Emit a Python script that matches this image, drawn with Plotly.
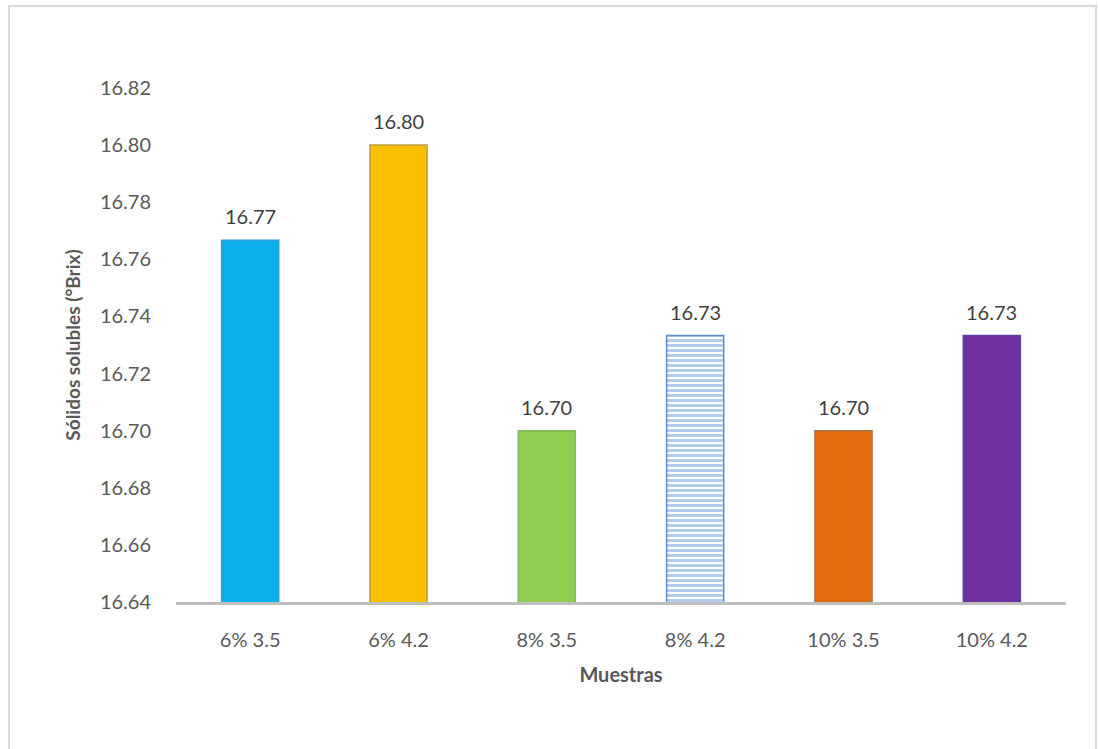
import plotly.graph_objects as go

categories = ["6% 3.5", "6% 4.2", "8% 3.5", "8% 4.2", "10% 3.5", "10% 4.2"]
values = [16.7667, 16.80, 16.70, 16.7333, 16.70, 16.7333]
labels = ["16.77", "16.80", "16.70", "16.73", "16.70", "16.73"]
colors = ["#0AAEEA", "#FBC002", "#8FCF50", "#B3CCEE", "#E36C0C", "#7030A0"]
edge_colors = ["#2E9FD8", "#B5A040", "#7DBA62", "#5F8CCF", "#B07040", "#6040A0"]
tick_vals = [16.64, 16.66, 16.68, 16.70, 16.72, 16.74, 16.76, 16.78, 16.80, 16.82]

fig = go.Figure()
fig.add_trace(go.Bar(
    x=categories, y=values,
    marker=dict(
        color=colors,
        line=dict(color=edge_colors, width=1.5),
        pattern=dict(
            shape=["", "", "", "-", "", ""],
            fgcolor="#4576C4",
            bgcolor="#BCD2F0",
            size=5,
            solidity=0.6,
            fillmode="replace",
        ),
    ),
    width=0.385,
    hoverinfo="skip",
))

for c, v, t in zip(categories, values, labels):
    fig.add_annotation(x=c, y=v, text=t, showarrow=False, yshift=24,
                       font=dict(family="Lato", size=20, color="#404040"))

L, R, T, B = 176, 32, 88, 147
W, H = 1098, 749
pw, ph = W - L - R, H - T - B
x0 = (9 - L) / pw
x1 = (1096 - L) / pw
y1 = (ph + T - 6) / ph
y0 = (ph + T - 760) / ph
fig.add_shape(type="rect", xref="paper", yref="paper", x0=x0, x1=x1, y0=y0, y1=y1,
              line=dict(color="#D9D9D9", width=2), fillcolor="rgba(0,0,0,0)", layer="below")

fig.update_layout(
    width=W, height=H,
    margin=dict(l=L, r=R, t=T, b=B),
    paper_bgcolor="white", plot_bgcolor="white",
    showlegend=False,
    font=dict(family="Lato", color="#595959", size=20),
    xaxis=dict(
        showline=True, linecolor="#BFBFBF", linewidth=3,
        showgrid=False, ticks="", ticklabelstandoff=18,
        tickfont=dict(family="Lato", size=20, color="#595959"),
        title=dict(text="<b>Muestras</b>", font=dict(family="Lato", size=20, color="#595959"), standoff=18),
    ),
    yaxis=dict(
        range=[16.64, 16.82], tickvals=tick_vals,
        tickformat=".2f", showgrid=False, showline=False, zeroline=False,
        ticks="", ticklabelstandoff=24,
        tickfont=dict(family="Lato", size=20, color="#595959"),
        title=dict(text="<b>Sólidos solubles (°Brix)</b>", font=dict(family="Lato", size=19, color="#595959"), standoff=14),
    ),
)

fig.write_html("out.html")
